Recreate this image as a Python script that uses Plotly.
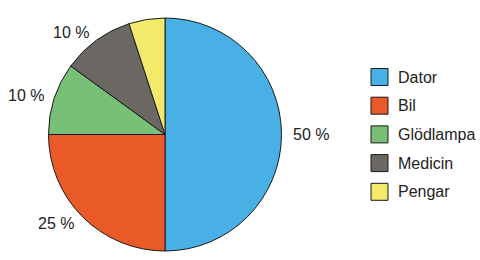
import math
import plotly.graph_objects as go

labels = ["Dator", "Bil", "Glödlampa", "Medicin", "Pengar"]
values = [50, 25, 10, 10, 5]
slice_text = ["50 %", "25 %", "10 %", "10 %", ""]
colors = ["#48b0e4", "#ea5a28", "#78bf78", "#6b6863", "#f3e96a"]

W, H = 480, 260
cx, cy, R = 165, 134.5, 116.5  # pixel geometry of the pie

fig = go.Figure(go.Pie(
    labels=labels, values=values, sort=False, direction="clockwise", rotation=0,
    marker=dict(colors=colors, line=dict(color="#1a1a1a", width=1)),
    textinfo="none", hoverinfo="label+value",
    domain=dict(x=[(cx - R) / W, (cx + R) / W], y=[(H - cy - R) / H, (H - cy + R) / H]),
    showlegend=False,
))

annotations = []
shapes = []
total = sum(values)
cum = 0
for lab, v, t in zip(labels, values, slice_text):
    mid = (cum + v / 2) / total * 2 * math.pi
    cum += v
    if not t:
        continue
    dx, dy = math.sin(mid), -math.cos(mid)
    r = R + 9
    px, py = cx + r * dx, cy + r * dy
    annotations.append(dict(
        x=px / W, y=1 - py / H, xref="paper", yref="paper", text=t, showarrow=False,
        xanchor="left" if dx > 0.01 else "right", yanchor="middle",
        font=dict(size=16, color="#222222", family="Liberation Sans, Arial, sans-serif"),
    ))

# legend
lx0, lsize, ly0, lstep = 371, 17, 77, 28.7
for i, (lab, col) in enumerate(zip(labels, colors)):
    yc = ly0 + i * lstep
    shapes.append(dict(type="rect", xref="paper", yref="paper",
                       x0=lx0 / W, x1=(lx0 + lsize) / W,
                       y0=1 - (yc + lsize / 2) / H, y1=1 - (yc - lsize / 2) / H,
                       fillcolor=col, line=dict(color="#1a1a1a", width=1)))
    annotations.append(dict(x=(lx0 + lsize + 8) / W, y=1 - yc / H, xref="paper", yref="paper",
                            text=lab, showarrow=False, xanchor="left", yanchor="middle",
                            font=dict(size=16, color="#222222", family="Liberation Sans, Arial, sans-serif")))

fig.update_layout(
    width=W, height=H, margin=dict(l=0, r=0, t=0, b=0),
    paper_bgcolor="white", plot_bgcolor="white",
    annotations=annotations, shapes=shapes,
)
fig.write_html("out.html")
